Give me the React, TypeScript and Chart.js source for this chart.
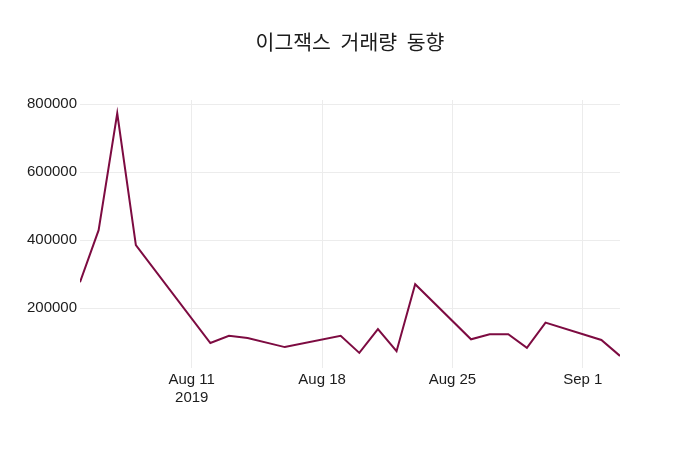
import React, { useEffect, useRef } from 'react';
import Chart from 'chart.js/auto';

// trading days (missing dates = weekends / holidays)
const tradeDates = [
  '2019-08-05', '2019-08-06', '2019-08-07', '2019-08-08', '2019-08-12',
  '2019-08-13', '2019-08-14', '2019-08-16', '2019-08-19', '2019-08-20',
  '2019-08-21', '2019-08-22', '2019-08-23', '2019-08-26', '2019-08-27',
  '2019-08-28', '2019-08-29', '2019-08-30', '2019-09-02', '2019-09-03',
];
const volumes = [
  276000, 429000, 773000, 385000, 97000,
  118000, 112000, 85000, 118000, 68000,
  138000, 73000, 270000, 108000, 123000,
  123000, 83000, 157000, 106000, 59000,
];
const xTickDates = ['2019-08-11', '2019-08-18', '2019-08-25', '2019-09-01'];
const xTickLabels: (string | string[])[] = [['Aug 11', '2019'], 'Aug 18', 'Aug 25', 'Sep 1'];
const yTickValues = [200000, 400000, 600000, 800000];
const titleText = '이그잭스 거래량 동향';

const DAY = 86400000;
const start = Date.parse(tradeDates[0]);
const dayOf = (d: string) => Math.round((Date.parse(d) - start) / DAY);

const TEXT = '#1c1c1c';
const TICK_FONT = '"Liberation Sans", Arial, sans-serif';

// plotly-style title centred on the whole canvas, words spaced a bit wider
const titlePlugin = {
  id: 'pageTitle',
  afterDraw(chart: Chart) {
    const ctx = chart.ctx;
    ctx.save();
    ctx.font = '20.5px "Noto Sans CJK KR", sans-serif';
    ctx.fillStyle = TEXT;
    ctx.textAlign = 'left';
    ctx.textBaseline = 'middle';
    const words = titleText.split(' ');
    const gap = ctx.measureText(' ').width + 5;
    const widths = words.map((w) => ctx.measureText(w).width);
    const total = widths.reduce((a, b) => a + b, 0) + gap * (words.length - 1);
    let x = chart.width / 2 - total / 2;
    words.forEach((w, i) => {
      ctx.fillText(w, x, 42.5);
      x += widths[i] + gap;
    });
    ctx.restore();
  },
};

export default function App() {
  const canvasRef = useRef<HTMLCanvasElement | null>(null);

  useEffect(() => {
    document.body.style.margin = '0';
    const canvas = canvasRef.current;
    if (!canvas) return;
    const tickDays = xTickDates.map(dayOf);

    const chart = new Chart(canvas, {
      type: 'line',
      data: {
        datasets: [
          {
            label: '거래량',
            data: tradeDates.map((d, i) => ({ x: dayOf(d), y: volumes[i] })),
            borderColor: '#7d0b41',
            borderWidth: 2,
            pointRadius: 0,
            tension: 0,
            fill: false,
          },
        ],
      },
      plugins: [titlePlugin],
      options: {
        responsive: false,
        animation: false,
        layout: { padding: { left: 0, right: 80, top: 100, bottom: 0 } },
        plugins: {
          legend: { display: false },
          tooltip: { enabled: false },
          title: { display: false },
        },
        scales: {
          x: {
            type: 'linear',
            min: 0,
            max: dayOf(tradeDates[tradeDates.length - 1]),
            afterBuildTicks: (scale) => {
              scale.ticks = tickDays.map((v) => ({ value: v }));
            },
            afterFit: (scale) => {
              scale.height = 82;
            },
            grid: { color: '#ececec', drawTicks: false },
            border: { display: false },
            ticks: {
              color: TEXT,
              padding: 3,
              maxRotation: 0,
              font: { family: TICK_FONT, size: 15, lineHeight: 1.2 },
              callback: (value) => {
                const i = tickDays.indexOf(Number(value));
                return i >= 0 ? xTickLabels[i] : '';
              },
            },
          },
          y: {
            min: 23500,
            max: 812000,
            afterBuildTicks: (scale) => {
              scale.ticks = yTickValues.map((v) => ({ value: v }));
            },
            afterFit: (scale) => {
              scale.width = 80;
            },
            grid: { color: '#ececec', drawTicks: false },
            border: { display: false },
            ticks: {
              color: TEXT,
              padding: 3,
              font: { family: TICK_FONT, size: 15 },
              callback: (value) => String(value),
            },
          },
        },
      },
    });

    return () => {
      chart.destroy();
    };
  }, []);

  return (
    <div style={{ width: 700, height: 450, background: '#fff' }}>
      <canvas ref={canvasRef} width={700} height={450} />
    </div>
  );
}
